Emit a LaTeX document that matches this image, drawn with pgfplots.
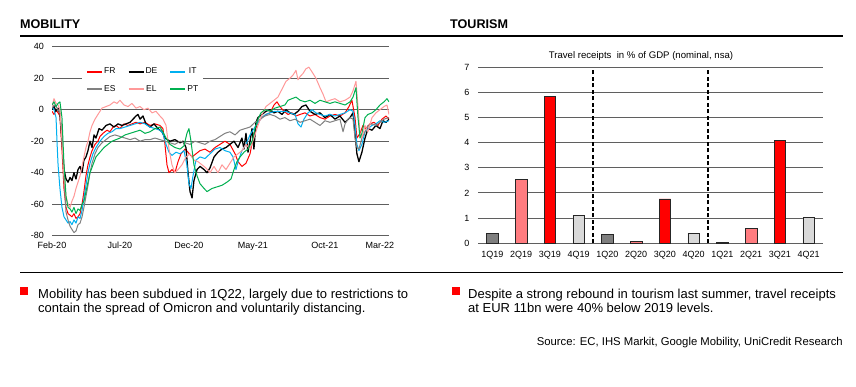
\documentclass[border=0pt]{standalone}
\usepackage{fontspec}
\setmainfont{Liberation Sans}
\usepackage{pgfplots}
\pgfplotsset{compat=1.18}
\definecolor{frred}{HTML}{FF0000}
\definecolor{itblue}{HTML}{00B0F0}
\definecolor{esgrey}{HTML}{808080}
\definecolor{elpink}{HTML}{FF9999}
\definecolor{ptgreen}{HTML}{00B050}
\definecolor{gridc}{HTML}{5F5F5F}
\definecolor{qone}{HTML}{7F7F7F}
\definecolor{qtwo}{HTML}{FF7C80}
\definecolor{qthree}{HTML}{FF0000}
\definecolor{qfour}{HTML}{D9D9D9}
\begin{document}
\begin{tikzpicture}
\useasboundingbox (0pt,0pt) rectangle (856pt,-386pt);
\fill[white] (0pt,0pt) rectangle (856pt,-386pt);
% titles and rules
\node[anchor=base west, inner sep=0pt, font=\bfseries\fontsize{12.6}{14}\selectfont] at (20pt,-28pt) {MOBILITY};
\node[anchor=base west, inner sep=0pt, font=\bfseries\fontsize{12.6}{14}\selectfont] at (450pt,-28pt) {TOURISM};
\draw[line width=1.3pt] (20pt,-36pt) -- (843pt,-36pt);
\draw[line width=1.3pt] (20pt,-272.3pt) -- (843pt,-272.3pt);
% ---------------- MOBILITY ----------------
\begin{axis}[
  at={(52pt,-235.7pt)}, anchor=south west,
  scale only axis, width=337pt, height=189pt,
  xmin=0, xmax=25, ymin=-80, ymax=40,
  xtick={0,5.04,10.16,14.9,20.25,24.33},
  xticklabels={Feb-20,Jul-20,Dec-20,May-21,Oct-21,Mar-22},
  ytick={-80,-60,-40,-20,0,20,40},
  ymajorgrids, grid style={color=gridc, line width=0.9pt},
  axis line style={draw=none},
  major tick length=0pt,
  tick label style={font=\fontsize{9}{11}\selectfont},
  yticklabel style={xshift=-4.5pt},
  xticklabel style={yshift=-3pt},
  /pgf/number format/assume math mode=true,
  legend columns=3,
  legend style={at={(0.089,0.91)}, anchor=north west, draw=none, fill=white,
    font=\fontsize{8.5}{10}\selectfont, inner xsep=4pt, inner ysep=3pt,
    row sep=8pt, nodes={inner sep=1pt},
    /tikz/every even column/.append style={column sep=11pt}},
  legend image code/.code={\draw[#1, line width=2pt, line cap=butt] (0pt,0pt) -- (15pt,0pt);},
  every axis plot/.append style={line width=1pt, line join=round},
]
\addplot[color=frred] coordinates {
(0,-1)(0.15,-3)(0.30,0)(0.45,-2)(0.59,-4)(0.74,-25)(0.89,-50)(1.04,-62)(1.19,-66)(1.34,-67)(1.48,-68)(1.63,-66)(1.78,-69)(1.93,-68)(2.08,-66)(2.23,-60)(2.37,-52)(2.52,-42)(2.67,-35)(2.82,-30)(2.97,-26)(3.19,-22)(3.41,-20)(3.56,-17)(3.78,-15)(4.08,-13)(4.30,-14)(4.53,-11)(4.75,-10)(5.04,-12)(5.34,-9)(5.64,-10)(5.93,-9)(6.23,-8)(6.53,-9)(6.90,-8)(7.27,-10)(7.64,-9)(8.01,-10)(8.23,-12)(8.38,-22)(8.53,-35)(8.68,-40)(8.90,-38)(9.12,-40)(9.35,-33)(9.57,-28)(9.87,-25)(10.09,-27)(10.39,-30)(10.68,-28)(10.98,-26)(11.35,-25)(11.72,-27)(12.09,-24)(12.46,-22)(12.83,-20)(13.20,-22)(13.58,-28)(13.80,-33)(14.09,-36)(14.39,-34)(14.69,-28)(14.98,-15)(15.28,-8)(15.58,-5)(15.87,-3)(16.17,-2)(16.47,3)(16.69,5)(16.91,2)(17.21,-1)(17.51,-3)(17.80,-2)(18.10,-4)(18.40,-3)(18.77,-2)(19.14,-4)(19.51,-3)(19.88,-5)(20.25,-6)(20.62,-4)(20.99,-3)(21.36,-4)(21.74,-2)(22.03,2)(22.25,6)(22.48,-5)(22.62,-18)(22.85,-15)(23.07,-10)(23.29,-12)(23.59,-9)(23.88,-8)(24.18,-10)(24.48,-6)(24.78,-4)(25.00,-6)
};
\addlegendentry{FR}
\addplot[color=black, line width=1.3pt] coordinates {
(0,0)(0.15,2)(0.30,-1)(0.45,1)(0.59,-3)(0.74,-20)(0.89,-38)(1.04,-44)(1.19,-46)(1.34,-43)(1.48,-45)(1.63,-40)(1.78,-44)(1.93,-38)(2.08,-36)(2.23,-40)(2.37,-32)(2.52,-30)(2.67,-26)(2.82,-20)(2.97,-24)(3.12,-16)(3.26,-18)(3.49,-12)(3.71,-13)(4.01,-10)(4.30,-9)(4.60,-11)(4.90,-9)(5.19,-10)(5.49,-9)(5.79,-8)(6.01,-6)(6.23,-4)(6.38,-3)(6.53,-6)(6.75,-4)(6.97,-9)(7.27,-11)(7.57,-9)(7.86,-12)(8.16,-14)(8.38,-18)(8.75,-20)(9.12,-19)(9.50,-21)(9.72,-20)(9.94,-24)(10.09,-40)(10.24,-52)(10.39,-56)(10.53,-45)(10.76,-38)(10.98,-36)(11.28,-38)(11.50,-40)(11.72,-37)(12.02,-30)(12.31,-27)(12.61,-25)(12.91,-24)(13.20,-22)(13.50,-20)(13.80,-24)(14.09,-18)(14.24,-25)(14.39,-15)(14.54,-27)(14.69,-20)(14.84,-12)(14.98,-25)(15.13,-8)(15.28,-5)(15.58,-3)(15.87,-1)(16.17,0)(16.47,-2)(16.76,-1)(17.06,-3)(17.36,0)(17.65,-2)(17.95,-3)(18.25,-1)(18.54,2)(18.84,3)(19.14,-1)(19.51,-3)(19.88,-2)(20.25,-5)(20.62,-3)(20.99,-6)(21.36,-4)(21.74,-8)(22.11,-5)(22.33,-2)(22.48,-15)(22.62,-28)(22.77,-33)(22.99,-27)(23.22,-18)(23.44,-12)(23.74,-13)(24.03,-10)(24.33,-12)(24.55,-7)(24.78,-8)(25.00,-6)
};
\addlegendentry{DE}
\addplot[color=itblue] coordinates {
(0,2)(0.15,0)(0.30,-5)(0.37,-20)(0.45,-35)(0.59,-50)(0.74,-62)(0.89,-68)(1.04,-70)(1.19,-72)(1.34,-71)(1.48,-73)(1.63,-70)(1.78,-72)(1.93,-68)(2.08,-69)(2.23,-64)(2.37,-56)(2.52,-48)(2.67,-40)(2.82,-34)(3.04,-28)(3.26,-24)(3.56,-20)(3.86,-17)(4.15,-15)(4.45,-14)(4.75,-12)(5.04,-12)(5.42,-11)(5.79,-10)(6.16,-9)(6.53,-8)(6.90,-9)(7.27,-11)(7.64,-12)(8.01,-13)(8.23,-15)(8.46,-22)(8.68,-27)(8.90,-29)(9.20,-27)(9.50,-28)(9.79,-26)(10.01,-35)(10.16,-47)(10.31,-50)(10.46,-42)(10.68,-32)(10.98,-30)(11.35,-31)(11.72,-28)(12.09,-25)(12.46,-24)(12.83,-26)(13.20,-27)(13.43,-30)(13.65,-38)(13.80,-33)(14.09,-26)(14.39,-22)(14.69,-16)(14.98,-12)(15.28,-8)(15.58,-5)(15.87,-3)(16.17,-2)(16.54,-1)(16.91,-1)(17.28,-1)(17.65,-2)(18.03,-3)(18.25,-9)(18.47,-11)(18.69,-6)(18.99,-2)(19.29,0)(19.58,-2)(19.88,-3)(20.25,-4)(20.62,-3)(20.99,-4)(21.36,-3)(21.74,-2)(22.11,0)(22.33,-1)(22.48,-10)(22.62,-22)(22.77,-26)(22.99,-22)(23.22,-14)(23.44,-12)(23.74,-10)(24.03,-9)(24.33,-7)(24.63,-8)(25.00,-7)
};
\addlegendentry{IT}
\addplot[color=esgrey] coordinates {
(0,1)(0.15,3)(0.30,2)(0.45,0)(0.59,-2)(0.74,-15)(0.89,-45)(1.04,-65)(1.19,-70)(1.34,-74)(1.48,-76)(1.63,-78)(1.78,-77)(1.93,-73)(2.08,-72)(2.23,-68)(2.37,-62)(2.52,-55)(2.67,-48)(2.82,-40)(2.97,-34)(3.19,-28)(3.41,-24)(3.71,-21)(4.01,-19)(4.30,-17)(4.67,-16)(5.04,-17)(5.42,-18)(5.79,-19)(6.16,-18)(6.53,-20)(6.90,-19)(7.27,-19)(7.64,-18)(8.01,-19)(8.38,-20)(8.75,-21)(9.12,-22)(9.50,-20)(9.87,-21)(10.24,-22)(10.61,-20)(10.98,-21)(11.35,-22)(11.72,-20)(12.09,-19)(12.46,-17)(12.83,-15)(13.20,-14)(13.58,-16)(13.95,-13)(14.32,-12)(14.69,-11)(15.06,-8)(15.43,-6)(15.80,-4)(16.17,-3)(16.54,-4)(16.91,-6)(17.28,-5)(17.65,-7)(18.03,-6)(18.40,-8)(18.77,-7)(19.14,-6)(19.51,-8)(19.88,-10)(20.25,-7)(20.62,-8)(20.99,-7)(21.36,-6)(21.59,-14)(21.74,-9)(21.96,-6)(22.11,-5)(22.33,-6)(22.48,-18)(22.62,-24)(22.77,-25)(22.99,-18)(23.22,-14)(23.44,-10)(23.74,-9)(24.03,-10)(24.33,-8)(24.63,-6)(25.00,-5)
};
\addlegendentry{ES}
\addplot[color=elpink] coordinates {
(0,2)(0.15,7)(0.30,4)(0.45,3)(0.59,0)(0.74,-20)(0.89,-42)(1.04,-55)(1.19,-60)(1.34,-62)(1.48,-58)(1.63,-55)(1.78,-50)(1.93,-46)(2.08,-42)(2.23,-36)(2.37,-30)(2.52,-24)(2.67,-20)(2.82,-14)(2.97,-10)(3.19,-6)(3.41,-3)(3.71,1)(4.01,2)(4.30,3)(4.60,5)(4.82,4)(5.04,6)(5.34,3)(5.64,2)(5.93,4)(6.23,1)(6.53,2)(6.82,0)(7.12,1)(7.42,-2)(7.71,-1)(8.01,-4)(8.23,-6)(8.46,-10)(8.68,-25)(8.90,-35)(9.12,-40)(9.35,-38)(9.64,-35)(9.94,-30)(10.24,-28)(10.53,-32)(10.83,-33)(11.13,-35)(11.42,-37)(11.72,-40)(12.02,-36)(12.31,-40)(12.61,-35)(12.91,-38)(13.20,-34)(13.50,-30)(13.80,-28)(14.09,-26)(14.39,-22)(14.69,-25)(14.98,-18)(15.28,-10)(15.58,-3)(15.87,2)(16.17,4)(16.47,6)(16.76,8)(17.06,13)(17.36,18)(17.65,20)(17.88,22)(18.10,25)(18.25,19)(18.40,21)(18.62,23)(18.84,26)(19.06,27)(19.29,24)(19.58,20)(19.88,14)(20.10,10)(20.33,5)(20.62,6)(20.99,7)(21.36,5)(21.74,6)(22.11,8)(22.33,12)(22.55,18)(22.70,2)(22.85,-15)(22.99,-18)(23.22,-10)(23.44,-14)(23.74,-5)(24.03,-2)(24.33,0)(24.63,2)(24.85,3)(25.00,-3)
};
\addlegendentry{EL}
\addplot[color=ptgreen] coordinates {
(0,3)(0.15,5)(0.30,2)(0.45,4)(0.59,5)(0.74,-5)(0.89,-35)(1.04,-55)(1.19,-62)(1.34,-63)(1.48,-65)(1.63,-62)(1.78,-66)(1.93,-63)(2.08,-64)(2.23,-60)(2.37,-58)(2.52,-52)(2.67,-46)(2.82,-40)(3.04,-35)(3.26,-30)(3.56,-27)(3.86,-24)(4.15,-22)(4.45,-20)(4.75,-19)(5.04,-18)(5.42,-16)(5.79,-15)(6.16,-14)(6.53,-13)(6.90,-15)(7.27,-14)(7.64,-12)(8.01,-11)(8.23,-14)(8.46,-18)(8.75,-22)(9.12,-24)(9.50,-25)(9.79,-23)(10.01,-15)(10.16,-12)(10.31,-20)(10.53,-35)(10.76,-42)(10.98,-47)(11.28,-50)(11.50,-52)(11.87,-50)(12.24,-49)(12.61,-48)(12.98,-46)(13.28,-44)(13.50,-38)(13.72,-33)(13.95,-30)(14.24,-27)(14.54,-25)(14.84,-20)(15.06,-12)(15.28,-6)(15.50,-2)(15.80,0)(16.17,-1)(16.54,1)(16.91,2)(17.28,3)(17.51,6)(17.80,7)(18.10,8)(18.40,6)(18.77,5)(19.14,6)(19.51,4)(19.88,6)(20.25,5)(20.62,4)(20.99,5)(21.36,4)(21.74,3)(22.11,5)(22.33,8)(22.55,14)(22.70,-5)(22.85,-18)(22.99,-15)(23.22,-5)(23.44,-3)(23.74,-2)(24.03,0)(24.33,3)(24.63,5)(24.85,7)(25.00,5)
};
\addlegendentry{PT}
\end{axis}
% ---------------- TOURISM ----------------
\node[font=\fontsize{9.6}{11}\selectfont] at (641pt,-56pt) {Travel receipts\ \ in \% of GDP (nominal, nsa)};
\begin{axis}[
  at={(478pt,-243.3pt)}, anchor=south west,
  scale only axis, width=345pt, height=176.3pt,
  xmin=-0.5, xmax=11.5, ymin=0, ymax=7,
  ybar, bar width=11.7pt, bar shift=0pt,
  xtick={0,1,2,3,4,5,6,7,8,9,10,11},
  xticklabels={1Q19,2Q19,3Q19,4Q19,1Q20,2Q20,3Q20,4Q20,1Q21,2Q21,3Q21,4Q21},
  ytick={0,1,2,3,4,5,6,7},
  ymajorgrids, grid style={color=gridc, line width=0.9pt},
  axis line style={draw=none},
  major tick length=0pt,
  tick label style={font=\fontsize{9}{11}\selectfont},
  yticklabel style={xshift=-5pt},
  xticklabel style={yshift=-4pt},
  /pgf/number format/assume math mode=true,
  every axis plot/.append style={draw=black!85, line width=0.5pt},
]
\addplot[fill=qone, draw=black!85] coordinates {(0,0.40) (4,0.36) (8,0.05)};
\addplot[fill=qtwo, draw=black!85] coordinates {(1,2.54) (5,0.09) (9,0.60)};
\addplot[fill=qthree, draw=black!85] coordinates {(2,5.82) (6,1.76) (10,4.10)};
\addplot[fill=qfour, draw=black!85] coordinates {(3,1.12) (7,0.40) (11,1.03)};
\draw[black, line width=1.3pt, dash pattern=on 4pt off 2.5pt] (axis cs:3.5,0) -- (axis cs:3.5,6.88);
\draw[black, line width=1.3pt, dash pattern=on 4pt off 2.5pt] (axis cs:7.5,0) -- (axis cs:7.5,6.88);
\end{axis}
% ---------------- bullets ----------------
\fill[frred] (20pt,-287pt) rectangle (28pt,-295pt);
\node[anchor=base west, inner sep=0pt, font=\fontsize{13}{15}\selectfont] at (38pt,-298pt) {Mobility has been subdued in 1Q22, largely due to restrictions to};
\node[anchor=base west, inner sep=0pt, font=\fontsize{13}{15}\selectfont] at (38pt,-312pt) {contain the spread of Omicron and voluntarily distancing.};
\fill[frred] (452pt,-287pt) rectangle (460pt,-295pt);
\node[anchor=base west, inner sep=0pt, font=\fontsize{13}{15}\selectfont] at (468pt,-298pt) {Despite a strong rebound in tourism last summer, travel receipts};
\node[anchor=base west, inner sep=0pt, font=\fontsize{13}{15}\selectfont] at (468pt,-312pt) {at EUR 11bn were 40\% below 2019 levels.};
\node[anchor=base east, inner sep=0pt, font=\fontsize{11.3}{13}\selectfont] at (843pt,-345pt) {Source: EC, IHS Markit, Google Mobility, UniCredit Research};
\end{tikzpicture}
\end{document}
